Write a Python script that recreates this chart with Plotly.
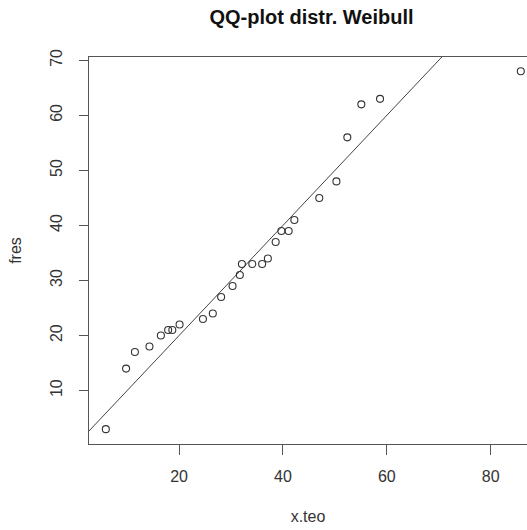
import plotly.graph_objects as go

# Theoretical Weibull quantiles (x.teo) and observed values (fres)
x_teo = [5.9, 9.8, 11.5, 14.3, 16.5, 17.9, 18.7, 20.1, 24.6, 26.5, 28.1, 30.3,
         31.7, 32.1, 34.1, 36.0, 37.1, 38.6, 39.7, 41.1, 42.2, 47.0, 50.3, 52.4,
         55.1, 58.7, 85.8]
fres = [3, 14, 17, 18, 20, 21, 21, 22, 23, 24, 27, 29,
        31, 33, 33, 33, 34, 37, 39, 39, 41, 45, 48, 56,
        62, 63, 68]

# Reference line y = a + b*x
line_intercept = 0
line_slope = 1
line_x = [0, 100]
line_y = [line_intercept + line_slope * v for v in line_x]

x_ticks = [20, 40, 60, 80]
y_ticks = [10, 20, 30, 40, 50, 60, 70]

W, H = 527, 530
L, T, B = 89.3, 57.3, 85.7

fig = go.Figure()
fig.add_trace(go.Scatter(x=line_x, y=line_y, mode="lines",
                         line=dict(color="#444444", width=1), hoverinfo="skip",
                         showlegend=False))
fig.add_trace(go.Scatter(x=x_teo, y=fres, mode="markers",
                         marker=dict(symbol="circle-open", size=7,
                                     line=dict(color="#333333", width=1.1),
                                     color="#333333"),
                         showlegend=False))

FAM = "Liberation Sans, Arial, sans-serif"

fig.update_layout(
    width=W, height=H,
    margin=dict(l=L, r=0, t=T, b=B, pad=0),
    paper_bgcolor="white", plot_bgcolor="white",
    font=dict(family=FAM, size=16, color="#333333"),
    title=dict(text="<b>QQ-plot distr. Weibull</b>", x=311.5 / W, xref="container",
               xanchor="center", y=1 - 17 / H, yref="container", yanchor="middle",
               font=dict(family=FAM, size=20, color="#111111")),
    xaxis=dict(range=[2.66, 2.66 + (W - L) / 5.19], tickvals=x_ticks,
               showgrid=False, zeroline=False, showline=True, mirror=True,
               linecolor="#555555", linewidth=1.3,
               ticks="outside", ticklen=10, tickcolor="#555555", tickwidth=1.3,
               ticklabelstandoff=8,
               tickfont=dict(family=FAM, size=16, color="#333333"),
               title=dict(text="x.teo", standoff=26,
                          font=dict(family=FAM, size=16, color="#333333"))),
    yaxis=dict(range=[0.3, 70.6], tickvals=y_ticks, tickangle=-90,
               showgrid=False, zeroline=False, showline=True, mirror=False,
               linecolor="#555555", linewidth=1.3,
               ticks="outside", ticklen=9, tickcolor="#555555", tickwidth=1.3,
               ticklabelstandoff=10,
               tickfont=dict(family=FAM, size=16, color="#333333"),
               title=dict(text="fres", standoff=22,
                          font=dict(family=FAM, size=16, color="#333333"))),
)

fig.write_html("out.html")
